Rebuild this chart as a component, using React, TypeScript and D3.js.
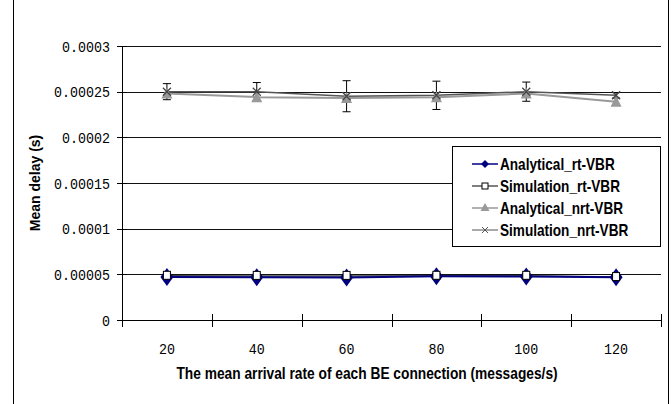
import React from "react";
import * as d3 from "d3";

const categories = ["20", "40", "60", "80", "100", "120"];
const analyticalRt = [0.0000472, 0.0000468, 0.0000466, 0.0000478, 0.0000476, 0.0000468];
const simulationRt = [0.0000484, 0.0000483, 0.0000483, 0.0000484, 0.0000484, 0.000047];
const analyticalNrt = [0.000248, 0.000244, 0.000243, 0.000244, 0.000248, 0.000239];
const simulationNrt = [0.00025, 0.00025, 0.000245, 0.000246, 0.00025, 0.000246];
const simulationNrtErr = [0.0000088, 0.00001, 0.000017, 0.0000155, 0.0000105, 0.000003];
const yTicks = [0, 0.00005, 0.0001, 0.00015, 0.0002, 0.00025, 0.0003];
const yTickLabels = ["0", "0.00005", "0.0001", "0.00015", "0.0002", "0.00025", "0.0003"];
const legendLabels = ["Analytical_rt-VBR", "Simulation_rt-VBR", "Analytical_nrt-VBR", "Simulation_nrt-VBR"];

const L = 122, R = 661, T = 46, B = 320;
const monoFont = "'Liberation Mono', 'DejaVu Sans Mono', monospace";
const sansFont = "'Liberation Sans', Arial, sans-serif";

function diamond(cx: number, cy: number) {
  return `M${cx},${cy - 9}L${cx + 6.5},${cy}L${cx},${cy + 9}L${cx - 6.5},${cy}Z`;
}
function triangle(cx: number, cy: number) {
  return `M${cx},${cy - 6}L${cx + 5.5},${cy + 5}L${cx - 5.5},${cy + 5}Z`;
}
function cross(cx: number, cy: number) {
  return `M${cx - 4},${cy - 4}L${cx + 4},${cy + 4}M${cx - 4},${cy + 4}L${cx + 4},${cy - 4}`;
}

export default function App() {
  const x = d3.scaleBand<string>().domain(categories).range([L, R]).padding(0);
  const y = d3.scaleLinear().domain([0, 0.0003]).range([B, T]);
  const cx = (c: string) => (x(c) as number) + x.bandwidth() / 2;
  const line = d3
    .line<number>()
    .x((_, i) => cx(categories[i]))
    .y((v) => y(v));

  const boundaries = d3.range(categories.length + 1).map((i) => L + i * x.bandwidth());

  const lx0 = 472, lx1 = 498, lmx = 485, ltx = 500;
  const rows = [164, 186, 208, 230];

  return (
    <svg width={671} height={404} style={{ position: "absolute", left: 0, top: 0, background: "#fff" }}>
      <rect x={0} y={0} width={671} height={404} fill="#fff" />
      <rect x={13.5} y={-5} width={655} height={420} fill="none" stroke="#000" strokeWidth={1} />

      {/* gridlines */}
      {yTicks.slice(1).map((t, i) => (
        <line key={i} x1={L} x2={R} y1={Math.round(y(t)) + 0.5} y2={Math.round(y(t)) + 0.5} stroke="#111" strokeWidth={1} />
      ))}

      {/* axes */}
      <line x1={L + 0.5} x2={L + 0.5} y1={T} y2={B + 6} stroke="#000" />
      <line x1={L - 5} x2={R} y1={B + 0.5} y2={B + 0.5} stroke="#000" />
      {yTicks.map((t, i) => (
        <line key={i} x1={L - 5} x2={L + 5} y1={Math.round(y(t)) + 0.5} y2={Math.round(y(t)) + 0.5} stroke="#000" />
      ))}
      {boundaries.map((bx, i) => (
        <line key={i} x1={Math.round(bx) + 0.5} x2={Math.round(bx) + 0.5} y1={B - 6} y2={B + 7} stroke="#000" />
      ))}
      {yTicks.map((t, i) => (
        <text key={i} transform={`translate(110,${y(t) + 5.5}) scale(0.89,1)`} textAnchor="end" fontFamily={monoFont} fontSize={15} fill="#000">
          {yTickLabels[i]}
        </text>
      ))}
      {categories.map((c) => (
        <text key={c} transform={`translate(${cx(c)},354) scale(0.89,1)`} textAnchor="middle" fontFamily={monoFont} fontSize={15} fill="#000">
          {c}
        </text>
      ))}

      {/* titles */}
      <text transform="translate(367,379) scale(0.86,1)" textAnchor="middle" fontFamily={sansFont} fontWeight="bold" fontSize={16} fill="#000">
        The mean arrival rate of each BE connection (messages/s)
      </text>
      <text
        transform={`translate(40,${(T + B) / 2}) rotate(-90)`}
        textAnchor="middle"
        fontFamily={sansFont}
        fontWeight="bold"
        fontSize={14}
        fill="#000"
      >
        Mean delay (s)
      </text>

      {/* series lines */}
      <path d={line(analyticalNrt) || ""} fill="none" stroke="#999999" strokeWidth={2} />
      <path d={line(simulationNrt) || ""} fill="none" stroke="#555555" strokeWidth={1.5} />
      <path d={line(simulationRt) || ""} fill="none" stroke="#444444" strokeWidth={1.5} />
      <path d={line(analyticalRt) || ""} fill="none" stroke="#000080" strokeWidth={2} />

      {/* error bars */}
      {simulationNrt.map((v, i) => {
        const px = cx(categories[i]);
        const t = y(v + simulationNrtErr[i]);
        const b = y(v - simulationNrtErr[i]);
        return (
          <g key={i} stroke="#000" strokeWidth={1}>
            <line x1={px} x2={px} y1={t} y2={b} />
            <line x1={px - 4} x2={px + 4} y1={t} y2={t} />
            <line x1={px - 4} x2={px + 4} y1={b} y2={b} />
          </g>
        );
      })}

      {/* markers */}
      {analyticalNrt.map((v, i) => (
        <path key={i} d={triangle(cx(categories[i]), y(v))} fill="#999999" />
      ))}
      {simulationNrt.map((v, i) => (
        <path key={i} d={cross(cx(categories[i]), y(v))} fill="none" stroke="#444" strokeWidth={1.3} />
      ))}
      {analyticalRt.map((v, i) => (
        <path key={i} d={diamond(cx(categories[i]), y(v))} fill="#000080" />
      ))}
      {simulationRt.map((v, i) => (
        <rect key={i} x={cx(categories[i]) - 3.5} y={y(v) - 4.5} width={7} height={8} fill="#fff" stroke="#000" strokeWidth={1} />
      ))}

      {/* legend */}
      <rect x={452.5} y={146.5} width={208} height={100} fill="#fff" stroke="#000" strokeWidth={1} />
      <line x1={lx0} x2={lx1} y1={rows[0]} y2={rows[0]} stroke="#000080" strokeWidth={1.5} />
      <path d={`M${lmx},${rows[0] - 4}L${lmx + 4},${rows[0]}L${lmx},${rows[0] + 4}L${lmx - 4},${rows[0]}Z`} fill="#000080" />
      <line x1={lx0} x2={lx1} y1={rows[1]} y2={rows[1]} stroke="#000" strokeWidth={1} />
      <rect x={lmx - 3} y={rows[1] - 3} width={6} height={6} fill="#fff" stroke="#000" />
      <line x1={lx0} x2={lx1} y1={rows[2]} y2={rows[2]} stroke="#999" strokeWidth={1.5} />
      <path d={`M${lmx},${rows[2] - 5}L${lmx + 4.5},${rows[2] + 3}L${lmx - 4.5},${rows[2] + 3}Z`} fill="#999" />
      <line x1={lx0} x2={lx1} y1={rows[3]} y2={rows[3]} stroke="#555" strokeWidth={1} />
      <path d={`M${lmx - 3},${rows[3] - 3}L${lmx + 3},${rows[3] + 3}M${lmx - 3},${rows[3] + 3}L${lmx + 3},${rows[3] - 3}`} stroke="#555" />
      {legendLabels.map((lab, i) => (
        <text key={lab} transform={`translate(${ltx},${rows[i] + 5.5}) scale(0.85,1)`} fontFamily={sansFont} fontWeight="bold" fontSize={16} fill="#000">
          {lab}
        </text>
      ))}
    </svg>
  );
}
